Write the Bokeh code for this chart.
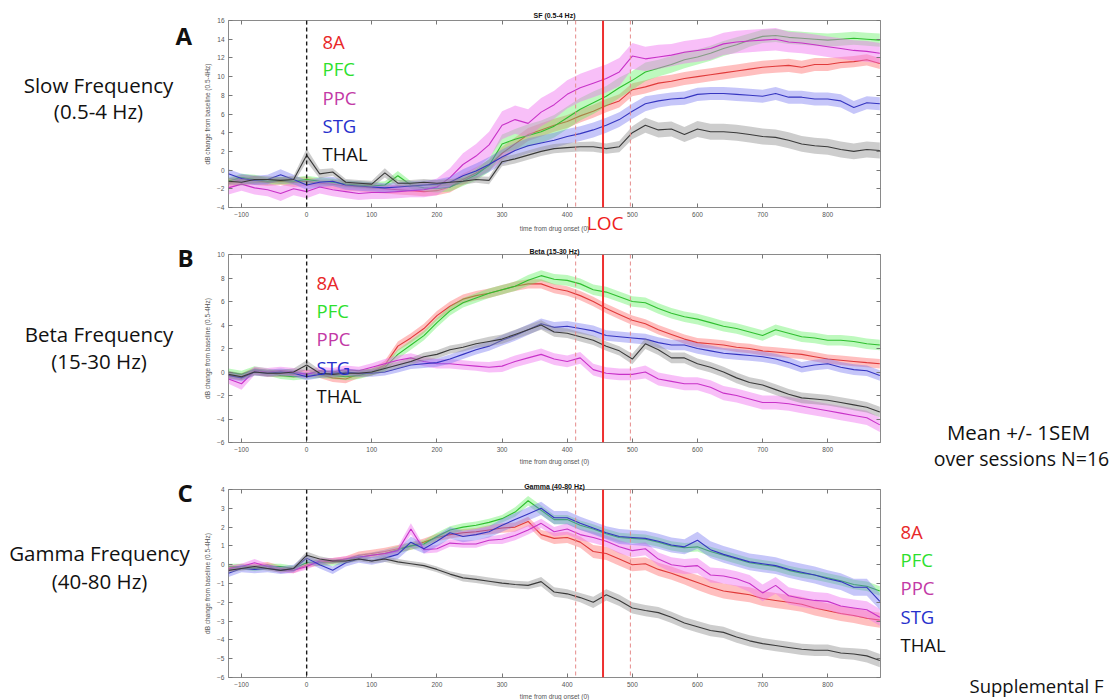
import numpy as np
from bokeh.plotting import figure
from bokeh.models import Span, Label, LinearAxis, FixedTicker, Range1d, GridBox
from bokeh.embed import file_html
from bokeh.resources import INLINE

# ---------------- data ----------------
t = list(range(-120, 881, 20))  # time from drug onset (s)

regions = ["8A", "PFC", "PPC", "STG", "THAL"]
drug_onset = 0
loc_time = 455
loc_bounds = [413, 497]
x_ticks = [-100, 0, 100, 200, 300, 400, 500, 600, 700, 800]

# Panel A: slow frequency (0.5-4 Hz)
a_8a = [-1.4, -1.0, -1.1, -1.3, -1.2, -1.3, -1.2, -1.4, -1.5, -1.7,
        -1.8, -1.9, -2.0, -2.1, -2.2, -2.3, -2.2, -1.8, -1.0, -0.3,
        0.5, 1.8, 2.8, 3.8, 4.3, 4.8, 5.2, 5.8, 6.3, 6.9,
        7.4, 8.6, 8.9, 9.3, 9.5, 9.8, 10.0, 10.2, 10.4, 10.6,
        10.8, 11.0, 11.1, 11.2, 11.0, 11.3, 11.3, 11.5, 11.6, 11.8, 11.4]
a_pfc = [-1.2, -0.8, -1.0, -1.2, -1.1, -1.2, -1.0, -1.2, -1.3, -1.5,
         -1.6, -1.7, -1.6, -0.6, -1.6, -1.9, -2.0, -1.8, -1.2, -0.5,
         0.5, 2.8, 3.3, 3.7, 4.1, 4.7, 5.6, 6.5, 7.2, 7.9,
         8.8, 9.6, 10.5, 10.9, 11.3, 11.8, 12.1, 12.5, 13.0, 13.4,
         13.9, 14.3, 14.4, 14.2, 14.1, 14.0, 13.9, 14.0, 14.1, 14.0, 13.9]
a_ppc = [-1.9, -1.5, -1.9, -2.1, -2.5, -2.0, -2.3, -1.8, -2.1, -2.3,
         -2.5, -2.4, -2.4, -2.3, -2.2, -2.1, -1.8, -0.8, 0.6, 1.5,
         2.7, 4.8, 5.4, 5.0, 6.2, 7.0, 8.1, 8.8, 9.3, 9.8,
         10.5, 12.2, 11.9, 12.1, 12.3, 12.6, 12.8, 13.0, 13.5, 13.7,
         13.8, 13.9, 14.0, 13.7, 13.6, 13.4, 13.2, 13.0, 12.8, 12.7, 12.5]
a_stg = [-0.4, -0.9, -1.1, -1.0, -0.5, -1.0, -1.6, -1.3, -1.2, -1.6,
         -1.7, -1.8, -1.9, -1.8, -1.7, -1.6, -1.5, -1.3, -0.6, -0.1,
         0.6, 1.4, 2.1, 2.6, 2.9, 3.2, 3.6, 3.9, 4.3, 4.8,
         5.4, 6.3, 7.1, 7.4, 7.6, 7.7, 8.1, 8.2, 8.2, 8.1,
         8.0, 7.9, 8.2, 7.8, 7.8, 7.6, 7.6, 7.4, 6.7, 7.2, 7.1]
a_thal = [-1.2, -1.3, -1.0, -1.0, -1.1, -1.0, 1.6, -0.4, -0.2, -1.3,
          -1.4, -1.5, -0.3, -1.4, -1.4, -1.3, -1.4, -1.3, -1.2, -1.0,
          -1.1, 0.9, 1.2, 1.6, 2.0, 2.3, 2.4, 2.5, 2.5, 2.3,
          2.5, 4.0, 4.8, 4.3, 4.4, 3.8, 4.4, 4.1, 4.1, 4.0,
          3.8, 3.6, 3.5, 3.2, 2.8, 2.6, 2.5, 2.2, 2.0, 2.2, 2.1]
a_8a_sem = [0.5, 0.5, 0.5, 0.4, 0.4, 0.5, 0.5, 0.4, 0.5, 0.5,
            0.5, 0.5, 0.5, 0.5, 0.5, 0.5, 0.5, 0.6, 0.6, 0.6,
            0.6, 0.7, 0.7, 0.7, 0.7, 0.7, 0.7, 0.7, 0.7, 0.7,
            0.7, 0.7, 0.7, 0.7, 0.7, 0.7, 0.7, 0.7, 0.7, 0.7,
            0.7, 0.7, 0.7, 0.7, 0.7, 0.7, 0.7, 0.6, 0.6, 0.6, 0.6]
a_pfc_sem = [0.4, 0.4, 0.5, 0.4, 0.4, 0.4, 0.4, 0.4, 0.4, 0.4,
             0.4, 0.4, 0.4, 0.5, 0.4, 0.4, 0.4, 0.5, 0.5, 0.6,
             0.7, 1.0, 1.1, 1.2, 1.2, 1.2, 1.2, 1.2, 1.2, 1.1,
             1.1, 1.0, 1.0, 0.9, 0.9, 0.9, 0.8, 0.8, 0.8, 0.8,
             0.7, 0.7, 0.7, 0.7, 0.7, 0.7, 0.7, 0.7, 0.7, 0.7, 0.7]
a_ppc_sem = [0.7, 0.7, 0.7, 0.7, 0.8, 0.7, 0.7, 0.7, 0.7, 0.7,
             0.7, 0.7, 0.7, 0.7, 0.7, 0.8, 0.9, 1.0, 1.2, 1.3,
             1.4, 1.5, 1.5, 1.5, 1.5, 1.5, 1.5, 1.5, 1.5, 1.5,
             1.5, 1.4, 1.3, 1.3, 1.2, 1.2, 1.2, 1.2, 1.2, 1.2,
             1.2, 1.2, 1.2, 1.1, 1.1, 1.1, 1.1, 1.1, 1.1, 1.1, 1.1]
a_stg_sem = [0.5, 0.5, 0.5, 0.5, 0.6, 0.5, 0.5, 0.5, 0.5, 0.5,
             0.5, 0.5, 0.5, 0.5, 0.5, 0.5, 0.5, 0.6, 0.7, 0.8,
             0.8, 0.8, 0.8, 0.8, 0.8, 0.8, 0.8, 0.8, 0.8, 0.8,
             0.8, 0.8, 0.8, 0.7, 0.7, 0.7, 0.7, 0.7, 0.7, 0.7,
             0.7, 0.7, 0.7, 0.7, 0.7, 0.7, 0.7, 0.7, 0.7, 0.7, 0.7]
a_thal_sem = [0.35, 0.35, 0.4, 0.35, 0.35, 0.4, 0.7, 0.5, 0.4, 0.35,
              0.35, 0.35, 0.5, 0.35, 0.35, 0.35, 0.35, 0.35, 0.35, 0.35,
              0.4, 0.5, 0.5, 0.5, 0.5, 0.5, 0.5, 0.5, 0.55, 0.55,
              0.6, 0.7, 0.8, 0.8, 0.8, 0.8, 0.85, 0.85, 0.85, 0.85,
              0.85, 0.85, 0.85, 0.85, 0.85, 0.85, 0.85, 0.85, 0.85, 0.85, 0.85]

# Panel B: beta (15-30 Hz)
b_8a = [-0.3, -0.4, 0.1, -0.1, -0.1, -0.2, -0.1, -0.2, -0.5, -0.6,
        -0.2, 0.0, 0.6, 2.2, 2.9, 3.7, 4.8, 5.6, 6.2, 6.5,
        6.7, 7.0, 7.3, 7.5, 7.5, 7.1, 6.9, 6.5, 6.0, 5.4,
        4.9, 4.4, 4.1, 3.6, 3.2, 2.8, 2.5, 2.4, 2.3, 2.1,
        2.0, 1.8, 1.7, 1.6, 1.5, 1.3, 1.1, 1.0, 0.9, 0.8, 0.7]
b_pfc = [0.0, -0.2, 0.2, 0.0, -0.3, -0.4, -0.3, -0.2, -0.3, -0.4,
         -0.3, 0.0, 0.4, 1.5, 2.3, 3.1, 4.2, 5.2, 5.9, 6.3,
         6.7, 7.0, 7.3, 7.8, 8.2, 7.9, 7.8, 7.5, 7.0, 6.8,
         6.4, 6.0, 5.9, 5.4, 5.0, 4.7, 4.5, 4.2, 3.9, 3.7,
         3.4, 3.1, 3.6, 3.3, 3.0, 2.9, 2.7, 2.7, 2.6, 2.4, 2.3]
b_ppc = [-0.6, -1.0, 0.1, 0.0, 0.1, 0.0, -0.2, 0.1, 0.0, 0.2,
         0.1, 0.4, 0.7, 1.0, 1.2, 0.9, 0.7, 0.7, 0.6, 0.5,
         0.4, 0.5, 0.9, 1.2, 1.5, 1.1, 0.9, 1.2, 0.2, -0.1,
         -0.2, -0.2, 0.0, -0.6, -0.8, -1.0, -1.0, -1.3, -1.8, -2.0,
         -2.3, -2.6, -2.6, -2.7, -2.9, -3.1, -3.3, -3.5, -3.7, -3.9, -4.5]
b_stg = [-0.3, -0.5, 0.0, -0.1, 0.0, -0.1, -0.4, -0.2, -0.1, 0.0,
         -0.1, -0.1, 0.0, 0.3, 0.6, 0.7, 0.8, 1.1, 1.5, 1.9,
         2.2, 2.7, 3.1, 3.6, 4.1, 3.8, 3.9, 3.7, 3.5, 3.1,
         3.0, 2.9, 2.8, 2.5, 2.3, 2.3, 2.0, 1.8, 1.6, 1.5,
         1.4, 1.3, 1.1, 0.8, 0.4, 0.6, 0.7, 0.4, 0.2, 0.1, -0.3]
b_thal = [-0.2, -0.4, 0.0, -0.1, -0.1, 0.0, 0.6, -0.1, -0.2, -0.1,
          -0.1, 0.0, 0.3, 0.6, 0.9, 1.3, 1.5, 1.9, 2.1, 2.4,
          2.6, 2.8, 3.2, 3.6, 4.0, 3.4, 3.3, 3.0, 2.7, 2.2,
          1.8, 1.1, 2.4, 1.9, 1.2, 1.2, 0.7, 0.4, 0.0, -0.5,
          -0.9, -1.1, -1.5, -1.9, -2.2, -2.3, -2.4, -2.6, -2.8, -3.0, -3.4]
b_8a_sem = [0.3, 0.3, 0.3, 0.3, 0.3, 0.3, 0.3, 0.3, 0.35, 0.35,
            0.3, 0.3, 0.35, 0.4, 0.4, 0.4, 0.4, 0.4, 0.4, 0.4,
            0.4, 0.4, 0.4, 0.4, 0.4, 0.4, 0.4, 0.4, 0.4, 0.4,
            0.4, 0.4, 0.4, 0.4, 0.4, 0.4, 0.4, 0.4, 0.4, 0.4,
            0.4, 0.4, 0.4, 0.4, 0.4, 0.4, 0.4, 0.4, 0.4, 0.4, 0.4]
b_pfc_sem = [0.3, 0.3, 0.3, 0.3, 0.3, 0.3, 0.3, 0.3, 0.3, 0.3,
             0.3, 0.3, 0.35, 0.4, 0.4, 0.4, 0.4, 0.4, 0.4, 0.4,
             0.4, 0.4, 0.4, 0.45, 0.45, 0.45, 0.45, 0.45, 0.45, 0.45,
             0.45, 0.45, 0.45, 0.45, 0.45, 0.45, 0.45, 0.45, 0.45, 0.45,
             0.45, 0.45, 0.45, 0.45, 0.45, 0.45, 0.45, 0.45, 0.45, 0.45, 0.45]
b_ppc_sem = [0.4, 0.5, 0.35, 0.35, 0.35, 0.35, 0.35, 0.35, 0.35, 0.35,
             0.35, 0.35, 0.4, 0.4, 0.4, 0.4, 0.4, 0.4, 0.4, 0.4,
             0.45, 0.5, 0.5, 0.5, 0.5, 0.5, 0.5, 0.5, 0.5, 0.5,
             0.5, 0.5, 0.55, 0.55, 0.55, 0.55, 0.55, 0.6, 0.6, 0.6,
             0.6, 0.6, 0.6, 0.6, 0.6, 0.6, 0.6, 0.6, 0.6, 0.6, 0.6]
b_stg_sem = [0.3, 0.3, 0.3, 0.3, 0.3, 0.3, 0.3, 0.3, 0.3, 0.3,
             0.3, 0.3, 0.3, 0.35, 0.35, 0.35, 0.35, 0.4, 0.4, 0.4,
             0.4, 0.45, 0.45, 0.45, 0.45, 0.45, 0.45, 0.45, 0.45, 0.45,
             0.45, 0.45, 0.45, 0.45, 0.45, 0.45, 0.45, 0.45, 0.45, 0.45,
             0.45, 0.45, 0.45, 0.45, 0.45, 0.45, 0.45, 0.45, 0.45, 0.45, 0.45]
b_thal_sem = [0.3, 0.3, 0.3, 0.3, 0.3, 0.3, 0.4, 0.3, 0.3, 0.3,
              0.3, 0.3, 0.3, 0.3, 0.3, 0.35, 0.35, 0.35, 0.35, 0.35,
              0.4, 0.4, 0.4, 0.4, 0.4, 0.4, 0.4, 0.4, 0.4, 0.4,
              0.4, 0.45, 0.45, 0.45, 0.45, 0.45, 0.45, 0.45, 0.45, 0.45,
              0.45, 0.45, 0.45, 0.45, 0.45, 0.45, 0.45, 0.45, 0.45, 0.45, 0.45]

# Panel C: gamma (40-80 Hz)
c_8a = [-0.2, -0.1, -0.1, 0.0, -0.2, -0.3, 0.0, 0.1, 0.2, 0.3,
        0.5, 0.6, 0.7, 0.85, 1.0, 1.2, 1.45, 1.6, 1.7, 1.75,
        1.85, 1.95, 2.0, 2.3, 1.6, 1.4, 1.45, 1.2, 0.7, 0.6,
        0.3, 0.0, 0.05, -0.25, -0.45, -0.7, -0.95, -1.2, -1.4, -1.5,
        -1.6, -1.8, -1.9, -2.0, -2.1, -2.3, -2.45, -2.6, -2.7, -2.85, -2.95]
c_pfc = [-0.1, -0.1, -0.2, -0.1, -0.1, -0.2, 0.1, 0.1, 0.1, 0.2,
         0.4, 0.5, 0.6, 0.8, 1.0, 1.1, 1.5, 1.85, 2.0, 2.1,
         2.25, 2.45, 2.8, 3.4, 2.9, 2.4, 2.4, 2.1, 1.9, 1.65,
         1.45, 1.4, 1.35, 1.2, 1.0, 0.9, 0.95, 0.7, 0.5, 0.3,
         0.1, 0.0, -0.1, -0.3, -0.45, -0.55, -0.7, -0.85, -1.05, -1.15, -1.4]
c_ppc = [-0.2, -0.1, 0.1, -0.1, -0.3, -0.3, -0.1, 0.2, 0.2, 0.3,
         0.4, 0.5, 0.6, 0.75, 1.9, 0.8, 0.85, 1.15, 1.1, 1.1,
         1.3, 1.35, 1.55, 1.85, 2.2, 1.75, 1.9, 1.6, 1.45, 1.25,
         0.95, 0.75, 0.85, 0.3, 0.0, -0.1, -0.05, -0.55, -0.6, -0.75,
         -1.0, -1.5, -1.1, -1.65, -1.8, -1.9, -1.95, -2.2, -2.3, -2.4, -2.8]
c_stg = [-0.45, -0.2, -0.25, -0.2, -0.3, -0.2, 0.35, 0.0, -0.3, 0.1,
         0.3, 0.2, 0.35, 0.55, 1.2, 0.85, 1.25, 1.7, 1.5, 1.6,
         1.75, 2.1, 2.4, 2.7, 3.0, 2.5, 2.5, 2.2, 1.95, 1.7,
         1.5, 1.45, 1.4, 1.25, 1.05, 0.95, 1.3, 0.8, 0.55, 0.35,
         0.15, 0.05, -0.05, -0.25, -0.4, -0.55, -0.75, -0.9, -1.2, -1.2, -1.95]
c_thal = [-0.3, -0.2, -0.1, -0.2, -0.3, -0.2, 0.5, 0.3, 0.2, 0.2,
          0.3, 0.2, 0.3, 0.15, 0.05, -0.05, -0.25, -0.5, -0.7, -0.78,
          -0.88, -0.98, -1.05, -1.1, -0.9, -1.45, -1.55, -1.75, -2.0, -1.6,
          -1.9, -2.3, -2.44, -2.55, -2.8, -3.1, -3.3, -3.5, -3.6, -3.85,
          -4.05, -4.2, -4.3, -4.4, -4.5, -4.55, -4.55, -4.7, -4.75, -4.85, -5.1]
c_8a_sem = [0.15, 0.15, 0.15, 0.15, 0.15, 0.15, 0.15, 0.15, 0.15, 0.15,
            0.2, 0.2, 0.2, 0.2, 0.2, 0.2, 0.2, 0.2, 0.2, 0.2,
            0.25, 0.25, 0.25, 0.25, 0.25, 0.3, 0.3, 0.3, 0.35, 0.35,
            0.35, 0.35, 0.35, 0.35, 0.35, 0.35, 0.4, 0.4, 0.4, 0.4,
            0.4, 0.4, 0.4, 0.4, 0.4, 0.4, 0.4, 0.4, 0.4, 0.4, 0.4]
c_pfc_sem = [0.15, 0.15, 0.15, 0.15, 0.15, 0.15, 0.15, 0.15, 0.15, 0.15,
             0.15, 0.15, 0.2, 0.2, 0.2, 0.2, 0.2, 0.2, 0.2, 0.2,
             0.2, 0.2, 0.25, 0.25, 0.25, 0.25, 0.25, 0.25, 0.25, 0.25,
             0.25, 0.25, 0.25, 0.25, 0.25, 0.25, 0.25, 0.25, 0.25, 0.25,
             0.25, 0.25, 0.25, 0.25, 0.25, 0.25, 0.25, 0.25, 0.25, 0.25, 0.25]
c_ppc_sem = [0.15, 0.15, 0.2, 0.15, 0.15, 0.15, 0.15, 0.15, 0.15, 0.15,
             0.15, 0.15, 0.2, 0.2, 0.3, 0.2, 0.2, 0.2, 0.2, 0.2,
             0.2, 0.25, 0.25, 0.25, 0.25, 0.25, 0.3, 0.3, 0.3, 0.3,
             0.35, 0.35, 0.35, 0.35, 0.4, 0.4, 0.4, 0.4, 0.4, 0.4,
             0.45, 0.45, 0.45, 0.45, 0.45, 0.45, 0.45, 0.45, 0.45, 0.45, 0.45]
c_stg_sem = [0.2, 0.2, 0.2, 0.2, 0.2, 0.2, 0.2, 0.2, 0.2, 0.2,
             0.2, 0.2, 0.2, 0.25, 0.3, 0.25, 0.3, 0.3, 0.3, 0.3,
             0.3, 0.35, 0.35, 0.35, 0.35, 0.35, 0.35, 0.35, 0.35, 0.35,
             0.4, 0.4, 0.4, 0.4, 0.4, 0.4, 0.45, 0.45, 0.45, 0.45,
             0.45, 0.45, 0.45, 0.45, 0.45, 0.45, 0.45, 0.45, 0.45, 0.45, 0.45]
c_thal_sem = [0.12, 0.12, 0.12, 0.12, 0.12, 0.15, 0.2, 0.15, 0.12, 0.12,
              0.12, 0.12, 0.15, 0.15, 0.15, 0.15, 0.15, 0.15, 0.2, 0.2,
              0.2, 0.2, 0.2, 0.2, 0.25, 0.25, 0.25, 0.25, 0.3, 0.3,
              0.3, 0.3, 0.3, 0.3, 0.3, 0.3, 0.3, 0.3, 0.3, 0.3,
              0.3, 0.3, 0.3, 0.3, 0.3, 0.3, 0.3, 0.3, 0.3, 0.35, 0.35]

line_colors = ["#e03a3a", "#2fbf2f", "#c832c8", "#3535c0", "#3a3a3a"]
band_colors = ["#ff7070", "#5cf05c", "#f070f0", "#7070f0", "#909090"]
band_alpha = [0.45, 0.4, 0.45, 0.4, 0.45]
text_colors = ["#e8282a", "#2de02d", "#c23aa6", "#2630cc", "#111111"]

FONT = "Open Sans"
TICKFONT = "Liberation Sans"
W = 1116
H = 700
FL, FR = 228, 236  # left / right borders (frame 652 px wide)


def make_panel(means, sems, yr, yticks, height, btop, bbot):
    p = figure(width=W, height=height, x_range=Range1d(-120, 881),
               y_range=Range1d(*yr), output_backend="svg",
               toolbar_location=None, title=None,
               min_border_left=FL, min_border_right=FR,
               min_border_top=btop, min_border_bottom=bbot)
    p.xgrid.visible = False
    p.ygrid.visible = False
    p.outline_line_color = "#8a8a8a"
    p.background_fill_color = "white"
    p.border_fill_color = "white"

    for ax in (p.xaxis[0], p.yaxis[0]):
        ax.major_tick_in = 4
        ax.major_tick_out = 0
        ax.minor_tick_in = 0
        ax.minor_tick_out = 0
        ax.axis_line_color = None
        ax.major_tick_line_color = "#777777"
        ax.major_label_text_font = TICKFONT
        ax.major_label_text_font_size = "6.5px"
        ax.major_label_text_color = "#555555"
    p.xaxis[0].ticker = FixedTicker(ticks=x_ticks)
    p.xaxis[0].major_label_standoff = 4
    p.yaxis[0].ticker = FixedTicker(ticks=yticks)
    p.yaxis[0].major_label_standoff = 4
    p.yaxis[0].axis_label = "dB change from baseline (0.5-4Hz)"
    p.yaxis[0].axis_label_text_font = TICKFONT
    p.yaxis[0].axis_label_text_font_size = "6.5px"
    p.yaxis[0].axis_label_text_font_style = "normal"
    p.yaxis[0].axis_label_text_color = "#555555"
    p.yaxis[0].axis_label_standoff = 3

    # box ticks on top and right
    top = LinearAxis(ticker=FixedTicker(ticks=x_ticks),
                     major_label_overrides={v: "" for v in x_ticks},
                     major_label_text_font_size="1px", major_label_standoff=0,
                     major_tick_in=4, major_tick_out=0, minor_tick_in=0,
                     minor_tick_out=0, axis_line_color=None,
                     major_tick_line_color="#777777")
    p.add_layout(top, "above")
    right = LinearAxis(ticker=FixedTicker(ticks=yticks),
                       major_label_overrides={v: "" for v in yticks},
                       major_label_text_font_size="1px", major_label_standoff=0,
                       major_tick_in=4, major_tick_out=0, minor_tick_in=0,
                       minor_tick_out=0, axis_line_color=None,
                       major_tick_line_color="#777777")
    p.add_layout(right, "right")

    tt = np.array(t, dtype=float)
    for i in range(len(means)):
        m = np.array(means[i], dtype=float)
        s = np.array(sems[i], dtype=float)
        assert len(m) == len(tt) and len(s) == len(tt), (i, len(m), len(s))
        p.varea(x=tt, y1=m - s, y2=m + s, fill_color=band_colors[i],
                fill_alpha=band_alpha[i])
        p.line(tt, m, line_color=line_colors[i], line_width=1.1)

    p.add_layout(Span(location=drug_onset, dimension="height", line_color="#1a1a1a",
                      line_dash="4 3", line_width=1.4))
    for b in loc_bounds:
        p.add_layout(Span(location=b, dimension="height", line_color="#e58a8a",
                          line_dash="4 3", line_width=1.0))
    p.add_layout(Span(location=loc_time, dimension="height", line_color="#ee3030",
                      line_width=2.0))
    return p


pa = make_panel([a_8a, a_pfc, a_ppc, a_stg, a_thal],
                [a_8a_sem, a_pfc_sem, a_ppc_sem, a_stg_sem, a_thal_sem],
                (-4, 16), [-4, -2, 0, 2, 4, 6, 8, 10, 12, 14, 16], 233, 20, 26)
pb = make_panel([b_8a, b_pfc, b_ppc, b_stg, b_thal],
                [b_8a_sem, b_pfc_sem, b_ppc_sem, b_stg_sem, b_thal_sem],
                (-6, 10), [-6, -4, -2, 0, 2, 4, 6, 8, 10], 232, 21, 23)
pc = make_panel([c_8a, c_pfc, c_ppc, c_stg, c_thal],
                [c_8a_sem, c_pfc_sem, c_ppc_sem, c_stg_sem, c_thal_sem],
                (-6, 4), [-6, -5, -4, -3, -2, -1, 0, 1, 2, 3, 4], 235, 24, 23)

# ---------------- transparent text overlay (page pixel coordinates) ----------------
ov = figure(frame_width=W, frame_height=H, x_range=Range1d(0, W), y_range=Range1d(H, 0),
            output_backend="svg", toolbar_location=None, title=None,
            x_axis_location=None, y_axis_location=None,
            min_border_left=0, min_border_right=0, min_border_top=0, min_border_bottom=0)
try:
    ov.frame_align = False
except Exception:
    pass
ov.xgrid.visible = False
ov.ygrid.visible = False
ov.outline_line_color = None
ov.background_fill_color = None
ov.border_fill_color = None


def add_text(x, y, text, size, color="#111111", align="left", style="normal", font=FONT):
    ov.add_layout(Label(x=x, y=y, text=text, text_font=font, text_font_size=size,
                        text_color=color, text_align=align, text_baseline="alphabetic",
                        text_font_style=style))


# panel titles and x-axis labels
for title, yb in zip(["SF (0.5-4 Hz)", "Beta (15-30 Hz)", "Gamma (40-80 Hz)"], [15, 250.5, 486]):
    add_text(554, yb, title, "7px", "#111111", "center", "bold", TICKFONT)
for yb in [228, 461, 696]:
    add_text(554, yb, "time from drug onset (0)", "6.5px", "#555555", "center", font=TICKFONT)

# panel letters
add_text(175, 35, "A", "24px", style="bold")
add_text(177, 257, "B", "24px", style="bold")
add_text(177, 492, "C", "24px", style="bold")

# band names on the left
add_text(98, 84, "Slow Frequency", "20.5px", align="center")
add_text(98, 110.7, "(0.5-4 Hz)", "20.5px", align="center")
add_text(98.5, 333, "Beta Frequency", "20.5px", align="center")
add_text(98.5, 360, "(15-30 Hz)", "20.5px", align="center")
add_text(99, 552, "Gamma Frequency", "20.5px", align="center")
add_text(99, 580, "(40-80 Hz)", "20.5px", align="center")

# region legends
for i, (name, yb) in enumerate(zip(regions, [40.7, 68.3, 96.7, 125, 153.3])):
    add_text(322, yb, name, "18.5px", text_colors[i])
for i, (name, yb) in enumerate(zip(regions, [282.3, 310, 338.3, 366.7, 395])):
    add_text(316, yb, name, "18.5px", text_colors[i])
for i, (name, yb) in enumerate(zip(regions, [530.7, 559, 587.3, 616, 644.3])):
    add_text(900, yb, name, "18.5px", text_colors[i])

add_text(604.7, 222.7, "LOC", "19px", "#ee2020", "center")
add_text(1018, 431.7, "Mean +/- 1SEM", "20.5px", align="center")
add_text(1021, 458, "over sessions N=16", "19.5px", align="center")
add_text(969, 685, "Supplemental F", "18.5px")

grid = GridBox(children=[(pa, 0, 0), (pb, 1, 0), (pc, 2, 0), (ov, 0, 0, 3, 1)])
open("out.html", "w").write(file_html(grid, INLINE))
